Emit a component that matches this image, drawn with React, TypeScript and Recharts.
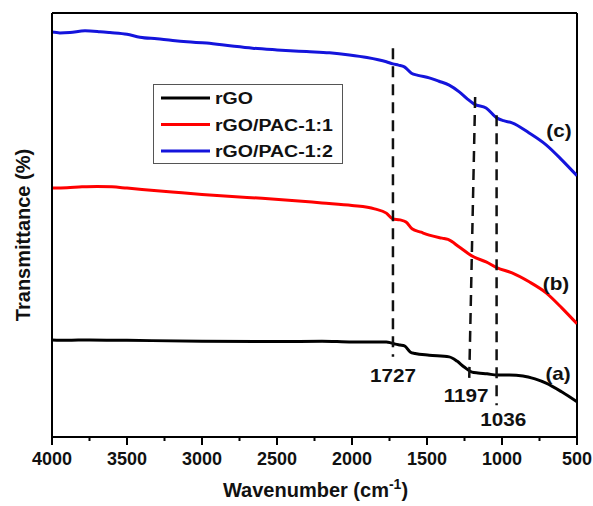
import React from "react";
import {
  LineChart,
  Line,
  XAxis,
  YAxis,
  ReferenceLine,
  ReferenceDot,
  Legend,
} from "recharts";

// FTIR spectra, wavenumber (cm^-1) vs. transmittance (arbitrary, offset for clarity)
const rgoWavenumber = [4000, 3900, 3750, 3500, 3000, 2500, 2200, 2000, 1850, 1771, 1740, 1710, 1680, 1650, 1610, 1580, 1485, 1352, 1300, 1252, 1200, 1160, 1100, 1032, 950, 860, 780, 706, 600, 500];
const rgoTransmittance = [22.9, 22.8, 22.9, 22.8, 22.6, 22.5, 22.6, 22.4, 22.4, 22.4, 22.2, 21.9, 21.7, 21.5, 20.0, 19.7, 19.3, 18.9, 17.9, 16.5, 15.3, 15.1, 14.9, 14.6, 14.6, 14.4, 13.7, 12.7, 10.6, 8.3];

const pac11Wavenumber = [4000, 3900, 3800, 3700, 3600, 3500, 3400, 3200, 3000, 2800, 2600, 2400, 2200, 2000, 1850, 1771, 1727, 1680, 1640, 1600, 1540, 1485, 1400, 1360, 1285, 1230, 1190, 1106, 1032, 933, 819, 706, 600, 500];
const pac11Transmittance = [58.7, 58.8, 59.0, 59.1, 59.0, 58.7, 58.4, 57.8, 57.2, 56.7, 56.3, 55.8, 55.2, 54.6, 53.8, 52.8, 51.4, 51.2, 50.7, 49.1, 48.3, 47.6, 46.9, 46.6, 44.8, 43.4, 42.5, 41.3, 39.9, 38.7, 36.6, 34.0, 30.4, 26.7];

const pac12Wavenumber = [4000, 3947, 3880, 3780, 3680, 3614, 3500, 3414, 3300, 3195, 3100, 2969, 2800, 2663, 2500, 2303, 2150, 2017, 1900, 1771, 1727, 1690, 1651, 1604, 1560, 1485, 1420, 1352, 1285, 1230, 1185, 1106, 1032, 990, 933, 819, 706, 600, 500];
const pac12Transmittance = [95.5, 95.3, 95.4, 95.8, 95.6, 95.4, 95.0, 94.3, 93.9, 93.5, 93.2, 92.9, 92.2, 91.7, 91.3, 90.9, 90.6, 90.1, 89.5, 88.5, 88.0, 87.7, 87.3, 85.8, 85.3, 84.7, 83.9, 83.0, 81.4, 79.7, 78.5, 77.6, 75.2, 74.6, 74.1, 71.7, 68.9, 65.3, 61.6];

const xTicks = [4000, 3750, 3500, 3250, 3000, 2750, 2500, 2250, 2000, 1750, 1500, 1250, 1000, 750, 500];
const X_DOMAIN: [number, number] = [500, 4000];
const Y_DOMAIN: [number, number] = [0, 100];

// band markers (transmittance units for vertical extent)
const band1727 = { x: 1727, top: 91.7, bottom: 18.9, labelY: 14.4 };
const band1197 = { xTop: 1179, xBottom: 1219, top: 80.2, bottom: 13.0, labelX: 1239, labelY: 9.7 };
const band1036 = { x: 1036, top: 75.9, bottom: 7.5, labelX: 992, labelY: 4.2 };

const curveTags = [
  { tag: "(c)", x: 620, y: 72.2 },
  { tag: "(b)", x: 640, y: 36.3 },
  { tag: "(a)", x: 626, y: 14.9 },
];

const zip = (xs: number[], ys: number[]) => xs.map((x, i) => ({ wn: x, t: ys[i] }));
const rgoData = zip(rgoWavenumber, rgoTransmittance);
const pac11Data = zip(pac11Wavenumber, pac11Transmittance);
const pac12Data = zip(pac12Wavenumber, pac12Transmittance);

const FONT = "'Liberation Sans', Arial, sans-serif";
const INK = "#111";
const WIDE = 1.15;

const XTick = (props: any) => {
  const { x, y, payload } = props;
  const major = payload.value % 500 === 0;
  return (
    <g>
      <line x1={x} x2={x} y1={y} y2={y + (major ? 8 : 4)} stroke="#000" strokeWidth={2} />
      {major && (
        <text x={x} y={y + 28} textAnchor="middle" fontFamily={FONT} fontWeight="bold" fontSize={18} fill={INK}>
          {payload.value}
        </text>
      )}
    </g>
  );
};

const XTitle = (props: any) => {
  const vb = props.viewBox;
  const cx = vb.x + vb.width / 2 + 1;
  return (
    <text x={cx} y={vb.y + 60} textAnchor="middle" fontFamily={FONT} fontWeight="bold" fontSize={20} fill={INK}>
      Wavenumber (cm
      <tspan dy={-8} fontSize={14}>-1</tspan>
      <tspan dy={8}>)</tspan>
    </text>
  );
};

const YTitle = (props: any) => {
  const vb = props.viewBox;
  const cx = 23;
  const cy = vb.y + vb.height / 2 + 10;
  return (
    <text
      x={cx}
      y={cy}
      transform={`rotate(-90 ${cx} ${cy})`}
      textAnchor="middle"
      dominantBaseline="central"
      fontFamily={FONT}
      fontWeight="bold"
      fontSize={20}
      fill={INK}
    >
      Transmittance (%)
    </text>
  );
};

const LegendBox = (props: any) => {
  const items = props.payload || [];
  return (
    <svg width={190} height={80} style={{ display: "block" }}>
      <rect x={0.5} y={0.5} width={189} height={79} fill="#fff" stroke="#555" strokeWidth={1} />
      {items.map((it: any, i: number) => {
        const cy = 14 + i * 26.5;
        return (
          <g key={it.value}>
            <line x1={8} x2={57} y1={cy} y2={cy} stroke={it.color} strokeWidth={3} />
            <text
              transform={`translate(62 ${cy}) scale(${WIDE} 1)`}
              dominantBaseline="central"
              fontFamily={FONT}
              fontWeight="bold"
              fontSize={17}
              fill={INK}
            >
              {it.value}
            </text>
          </g>
        );
      })}
    </svg>
  );
};

// centered annotation text for reference dots
const tagLabel = (value: string) => (props: any) => {
  const vb = props.viewBox || {};
  const cx = (vb.x ?? 0) + (vb.width ?? 0) / 2;
  const cy = (vb.y ?? 0) + (vb.height ?? 0) / 2;
  return (
    <text
      transform={`translate(${cx} ${cy}) scale(${WIDE} 1)`}
      textAnchor="middle"
      dominantBaseline="central"
      fontFamily={FONT}
      fontWeight="bold"
      fontSize={18}
      fill={INK}
    >
      {value}
    </text>
  );
};

export default function App() {
  return (
    <div style={{ position: "fixed", left: 0, top: 0, width: 593, height: 506, background: "#fff" }}>
      <LineChart width={593} height={506} margin={{ top: 13, right: 16, bottom: 0, left: 0 }}>
        <XAxis
          dataKey="wn"
          type="number"
          domain={X_DOMAIN}
          reversed
          ticks={xTicks}
          interval={0}
          allowDataOverflow
          height={69}
          tickSize={0}
          tickMargin={0}
          tickLine={false}
          tick={<XTick />}
          axisLine={{ stroke: "#000", strokeWidth: 2 }}
          label={<XTitle />}
        />
        <YAxis
          dataKey="t"
          type="number"
          domain={Y_DOMAIN}
          width={52}
          tick={false}
          tickLine={false}
          axisLine={{ stroke: "#000", strokeWidth: 2 }}
          label={<YTitle />}
        />
        <ReferenceLine y={Y_DOMAIN[1]} stroke="#000" strokeWidth={2} />
        <ReferenceLine x={X_DOMAIN[0]} stroke="#000" strokeWidth={2} />

        <Legend
          layout="vertical"
          align="center"
          verticalAlign="middle"
          wrapperStyle={{ left: 153, top: 84, width: 190, height: 80 }}
          content={<LegendBox />}
        />

        <Line data={rgoData} dataKey="t" name="rGO" type="monotoneX" stroke="#000000" strokeWidth={3} dot={false} isAnimationActive={false} />
        <Line data={pac11Data} dataKey="t" name="rGO/PAC-1:1" type="monotoneX" stroke="#ff0000" strokeWidth={3} dot={false} isAnimationActive={false} />
        <Line data={pac12Data} dataKey="t" name="rGO/PAC-1:2" type="monotoneX" stroke="#1414dc" strokeWidth={3} dot={false} isAnimationActive={false} />

        <ReferenceLine
          segment={[{ x: band1727.x, y: band1727.top }, { x: band1727.x, y: band1727.bottom }]}
          stroke={INK}
          strokeWidth={2.5}
          strokeDasharray="11 7"
        />
        <ReferenceLine
          segment={[{ x: band1197.xTop, y: band1197.top }, { x: band1197.xBottom, y: band1197.bottom }]}
          stroke={INK}
          strokeWidth={2.5}
          strokeDasharray="11 7"
        />
        <ReferenceLine
          segment={[{ x: band1036.x, y: band1036.top }, { x: band1036.x, y: band1036.bottom }]}
          stroke={INK}
          strokeWidth={2.5}
          strokeDasharray="11 7"
        />

        <ReferenceDot x={band1727.x} y={band1727.labelY} r={0} fill="none" stroke="none" label={tagLabel("1727")} />
        <ReferenceDot x={band1197.labelX} y={band1197.labelY} r={0} fill="none" stroke="none" label={tagLabel("1197")} />
        <ReferenceDot x={band1036.labelX} y={band1036.labelY} r={0} fill="none" stroke="none" label={tagLabel("1036")} />

        {curveTags.map((c) => (
          <ReferenceDot key={c.tag} x={c.x} y={c.y} r={0} fill="none" stroke="none" label={tagLabel(c.tag)} />
        ))}
      </LineChart>
    </div>
  );
}
